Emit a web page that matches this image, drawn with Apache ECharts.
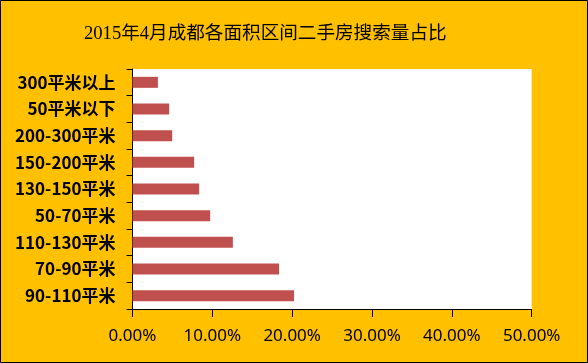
<!DOCTYPE html>
<html>
<head>
<meta charset="utf-8">
<script src="https://cdn.jsdelivr.net/npm/echarts@6/dist/echarts.min.js"></script>
<style>
html,body{margin:0;padding:0;background:#FFC000;}
#c{width:588px;height:363px;}
</style>
</head>
<body>
<div id="c"></div>
<script>
// categories listed top to bottom
const categories = ['300平米以上','50平米以下','200-300平米','150-200平米','130-150平米','50-70平米','110-130平米','70-90平米','90-110平米'];
const shares = [3.18, 4.59, 4.97, 7.72, 8.35, 9.73, 12.57, 18.36, 20.24];
const xTicks = [0, 10, 20, 30, 40, 50];
const titleText = '2015年4月成都各面积区间二手房搜索量占比';

const chart = echarts.init(document.getElementById('c'), null, {renderer: 'canvas'});
chart.setOption({
  backgroundColor: '#FFC000',
  animation: false,
  title: {
    text: titleText,
    left: 79,
    top: 20,
    textStyle: {
      fontFamily: '"Liberation Serif", "DejaVu Serif", "Noto Sans CJK SC", serif',
      fontSize: 18.6,
      fontWeight: 'normal',
      color: '#000'
    }
  },
  graphic: [{
    type: 'rect',
    shape: {x: 0.5, y: 0.5, width: 587, height: 362},
    style: {fill: 'none', stroke: '#000', lineWidth: 1},
    silent: true
  }],
  grid: {
    left: 132.5,
    right: 56.3,
    top: 69,
    bottom: 54,
    show: true,
    backgroundColor: '#ffffff',
    borderWidth: 0
  },
  xAxis: {
    type: 'value',
    min: xTicks[0],
    max: xTicks[xTicks.length - 1],
    interval: 10,
    axisLine: {show: true, lineStyle: {color: '#000', width: 1}},
    axisTick: {show: true, length: 8, lineStyle: {color: '#000'}},
    splitLine: {show: false},
    axisLabel: {
      margin: 19,
      fontSize: 17,
      fontFamily: '"Noto Sans", "Open Sans", sans-serif',
      color: '#000',
      formatter: v => v.toFixed(2) + '%'
    }
  },
  yAxis: {
    type: 'category',
    inverse: true,
    data: categories,
    axisLine: {show: true, lineStyle: {color: '#000', width: 1}},
    axisTick: {show: true, length: 6, lineStyle: {color: '#000'}},
    splitLine: {show: false},
    axisLabel: {
      margin: 17,
      fontSize: 17,
      fontWeight: 'bold',
      fontFamily: '"Noto Sans CJK SC", "Noto Sans", sans-serif',
      color: '#000'
    }
  },
  series: [{
    type: 'bar',
    data: shares,
    barWidth: 11,
    itemStyle: {color: '#C0504D'}
  }]
});
</script>
</body>
</html>
